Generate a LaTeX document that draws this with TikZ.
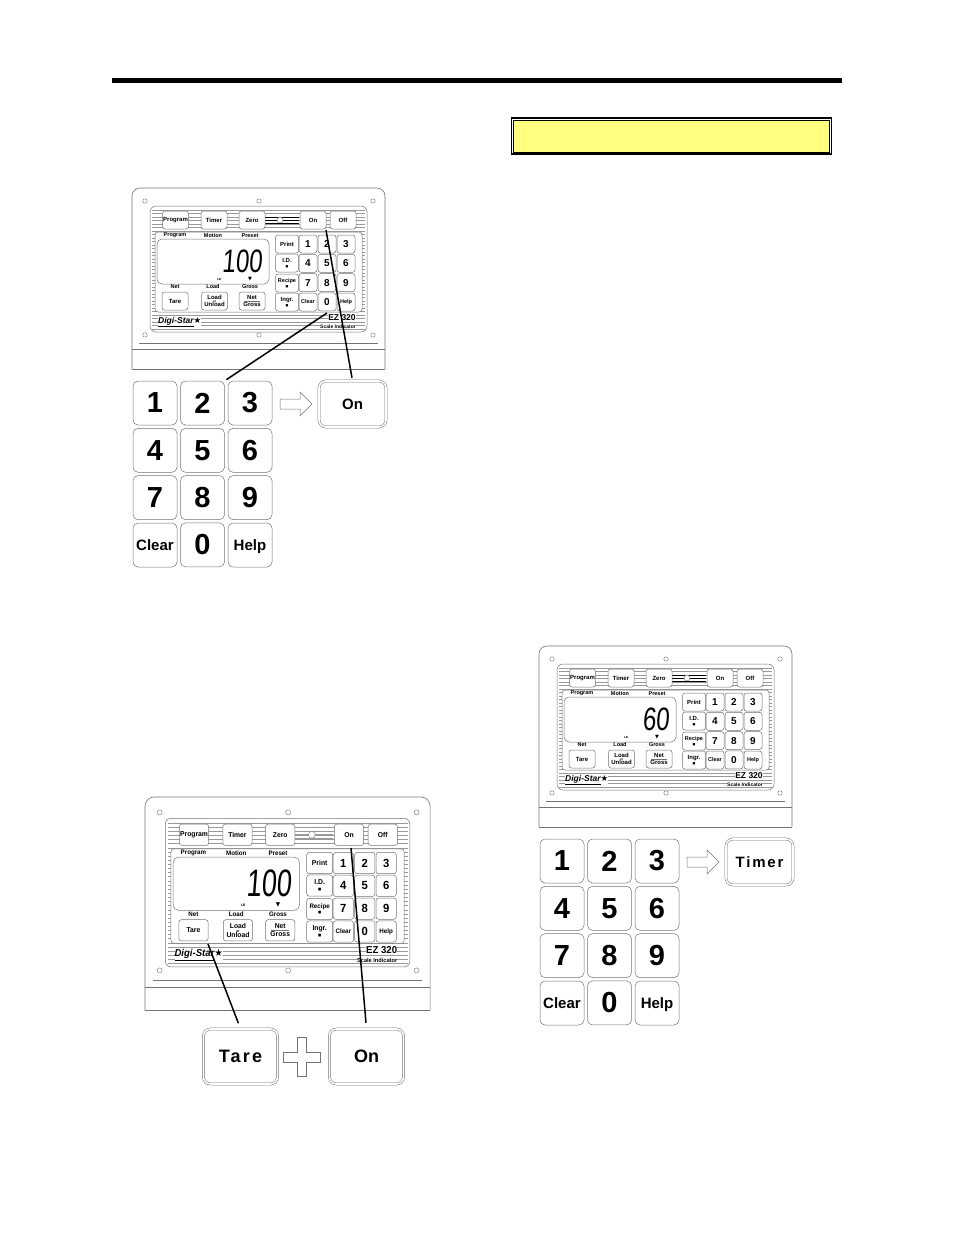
\documentclass[tikz,border=0pt]{standalone}
\usepackage{fontspec}
\setmainfont{Liberation Sans}
\newfontfamily\symbolfont{DejaVu Sans}
\newcommand{\tinymark}{{\symbolfont\fontsize{3}{3}\selectfont ■}}
\definecolor{notice}{RGB}{255,255,128}
\definecolor{keyline}{gray}{0.45}
\definecolor{hatchline}{gray}{0.6}
\tikzset{
	smallkey/.style={draw=keyline,line width=0.5pt,rounded corners=2.5pt,fill=white,inner sep=0pt,minimum width=#1,minimum height=18pt,font=\bfseries\fontsize{6}{6}\selectfont,align=center},
	smallkey/.default=18pt,
	bigkey/.style={draw=keyline,line width=0.5pt,rounded corners=5pt,fill=white,inner sep=0pt,minimum width=44pt,minimum height=44pt,font=\bfseries\fontsize{29}{29}\selectfont},
	wordkey/.style={bigkey,font=\bfseries\fontsize{15}{15}\selectfont,text height=11pt,text depth=0pt},
	outlinekey/.style={draw=keyline,line width=0.5pt,double,double distance=1.6pt,rounded corners=7pt,fill=white,inner sep=0pt,font=\bfseries\fontsize{15}{15}\selectfont},
	lamp/.style={font=\bfseries\fontsize{5.5}{5.5}\selectfont,inner sep=0pt},
	hatch/.style={draw=hatchline,line width=0.4pt},
	hole/.style={draw=keyline,line width=0.4pt,fill=white},
	callout/.style={line width=1.5pt,black},
	hollow/.style={draw=keyline,line width=0.5pt,fill=white}
}
% one indicator: x shift, y shift, x scale, y scale, name prefix, reading, colour of the lines by the lamp
\newcommand{\scalepanel}[7]{
	\begin{scope}[shift={(#1,#2)},xscale=#3,yscale=#4,transform shape]
		\draw [draw=keyline,line width=0.6pt] (0,181) -- (0,8) to[out=90,in=180] (8,0) -- (245,0) to[out=0,in=90] (253,8) -- (253,181);
		\draw [draw=keyline,line width=0.4pt] (7,155) -- (246,155);
		\draw [draw=keyline,line width=0.4pt] (0,161) -- (253,161);
		\draw [draw=keyline,line width=0.6pt] (0,181) -- (253,181);
		\foreach \x in {13,127,241} {
			\draw [hole] (\x,13) circle [radius=2.2];
			\draw [hole] (\x,147) circle [radius=2.2];
		}
		\draw [draw=keyline,line width=0.5pt,rounded corners=6pt] (18,18) rectangle (235,144);
		\foreach \y in {22,25.5,...,142} {
			\draw [hatch] (20,\y) -- (233,\y);
		}
		\draw [fill=white,draw=keyline,line width=0.5pt,rounded corners=3pt] (23,44) rectangle (230,124);
		\draw [fill=white,draw=keyline,line width=0.5pt,rounded corners=5pt] (25,51) rectangle (137,96);
		\foreach \y in {29,32,35} {
			\draw [draw=#7,line width=0.6pt] (133,\y) -- (167,\y);
		}
		\node [smallkey=26pt] (#5program) at (43.5,32) {Program};
		\node [smallkey=26pt] (#5timer) at (82,32) {Timer};
		\node [smallkey=26pt] (#5zero) at (120,32) {Zero};
		\draw [hole] (148,32) circle [radius=3];
		\node [smallkey=26pt] (#5on) at (181,32) {On};
		\node [smallkey=26pt] (#5off) at (211,32) {Off};
		\node [smallkey=23pt] (#5print) at (155,56) {Print};
		\node [smallkey=23pt] (#5id) at (155,75) {I.D.\\[-1pt]\tinymark};
		\node [smallkey=23pt,font=\bfseries\fontsize{5.5}{5.5}\selectfont] (#5recipe) at (155,95) {Recipe\\[-1pt]\tinymark};
		\node [smallkey=23pt] (#5ingr) at (155,114) {Ingr.\\[-1pt]\tinymark};
		\foreach \lab/\nm/\i/\j in {1/one/0/0,2/two/1/0,3/three/2/0,4/four/0/1,5/five/1/1,6/six/2/1,7/seven/0/2,8/eight/1/2,9/nine/2/2,0/zero/1/3} {
			\node [smallkey,font=\bfseries\fontsize{10}{10}\selectfont] (#5\nm) at ({176+19*\i},{56+19.3*\j}) {\lab};
		}
		\node [smallkey,font=\bfseries\fontsize{5.5}{5.5}\selectfont] (#5clear) at (176,114) {Clear};
		\node [smallkey,font=\bfseries\fontsize{5.5}{5.5}\selectfont] (#5help) at (214,114) {Help};
		\node [smallkey=26pt] (#5tare) at (43,113) {Tare};
		\node [smallkey=26pt,font=\bfseries\fontsize{6}{5}\selectfont] (#5load) at (82.5,113) {Load\\[-1.5pt]{\fontsize{3}{3}\selectfont or}\\[-1pt]Unload};
		\node [smallkey=26pt] (#5net) at (120,113) {Net\\[1pt]Gross};
		\draw [draw=keyline,line width=0.4pt] (112,113) -- (128,113);
		\node [lamp] (#5lprogram) at (43,47.5) {Program};
		\node [lamp] (#5lmotion) at (81,48) {Motion};
		\node [lamp] (#5lpreset) at (118,48) {Preset};
		\node [lamp] (#5lnet) at (43,99) {Net};
		\node [lamp] (#5lload) at (81,99) {Load};
		\node [lamp] (#5lgross) at (118,99) {Gross};
		\node [lamp,font=\bfseries\fontsize{3}{3}\selectfont] (#5lb) at (87,91.5) {LB};
		\node [lamp,font=\symbolfont\fontsize{5}{5}\selectfont] (#5mark) at (118,91.5) {▼};
		\node [inner sep=0pt,anchor=east,xslant=0.08,xscale=0.8,yscale=1.08,font=\fontsize{30}{30}\selectfont] (#5reading) at (131,73) {#6};
		\node [inner sep=0pt,fill=white,anchor=west,font=\bfseries\itshape\fontsize{8.5}{8.5}\selectfont] (#5brand) at (26,134) {\underline{Digi-Star}{\symbolfont\upshape ★}};
		\node [inner sep=0pt,fill=white,font=\bfseries\fontsize{8.5}{8.5}\selectfont] (#5model) at (210,130) {EZ 320};
		\node [inner sep=0pt,fill=white,font=\bfseries\fontsize{5}{5}\selectfont] (#5sub) at (206,138.5) {Scale Indicator};
	\end{scope}
}
% big keypad with the word key beside it
\newcommand{\keyblock}[4]{
	\begin{scope}[shift={(#1,#2)}]
		\foreach \lab/\nm/\i/\j in {1/one/0/0,2/two/1/0,3/three/2/0,4/four/0/1,5/five/1/1,6/six/2/1,7/seven/0/2,8/eight/1/2,9/nine/2/2,0/zero/1/3} {
			\node [bigkey] (#3\nm) at ({155+47.5*\i},{403+47.3*\j}) {\lab};
		}
		\node [wordkey] (#3clear) at (155,545) {Clear};
		\node [wordkey] (#3help) at (250,545) {Help};
		\draw [hollow] (280,399) -- (300,399) -- (300,392) -- (312,404) -- (300,416) -- (300,409) -- (280,409) -- cycle;
		\node [outlinekey,minimum width=67pt,minimum height=46pt] (#3go) at (352.5,404) {#4};
	\end{scope}
}
\begin{document}
\begin{tikzpicture}[x=1pt,y=-1pt]
	\useasboundingbox (0,0) rectangle (954,1235);
	\fill [black] (112,78) rectangle (842,83);

	\draw [black,fill=white,line width=1.2pt] (511.5,118) rectangle (831.5,154);
	\draw [black,fill=notice,line width=0.6pt] (513.5,120) rectangle (829,152);

	\scalepanel{132}{188}{1}{1}{a}{100}{black}
	\keyblock{0}{0}{k}{On}
	\coordinate (ezpoint) at (327,313);
	\coordinate (onpoint) at (326,230);
	\draw [callout,shorten <=2pt] (ktwo.north east) -- (ezpoint);
	\draw [callout,shorten <=3pt] (kgo.north) -- (onpoint);

	\scalepanel{145}{797}{1.127}{1.18}{b}{100}{hatchline}
	\node [outlinekey,minimum width=74pt,minimum height=55pt,font=\bfseries\fontsize{18}{18}\selectfont\addfontfeature{LetterSpace=12}] (taregoal) at (240.5,1056.5) {Tare};
	\node [outlinekey,minimum width=74pt,minimum height=55pt,font=\bfseries\fontsize{18}{18}\selectfont] (ongoal) at (366.5,1056.5) {On};
	\draw [hollow] (283,1052) -- (297,1052) -- (297,1037) -- (306,1037) -- (306,1052) -- (320,1052) -- (320,1062) -- (306,1062) -- (306,1076) -- (297,1076) -- (297,1062) -- (283,1062) -- cycle;
	\coordinate (tarepoint) at (208,944);
	\coordinate (bonpoint) at (351,848);
	\draw [callout,shorten <=6pt] (taregoal.north) -- (tarepoint);
	\draw [callout,shorten <=6pt] (ongoal.north) -- (bonpoint);

	\scalepanel{539}{646}{1}{1}{c}{60}{black}
	\keyblock{407}{458}{m}{\addfontfeature{LetterSpace=12}Timer}
\end{tikzpicture}
\end{document}
